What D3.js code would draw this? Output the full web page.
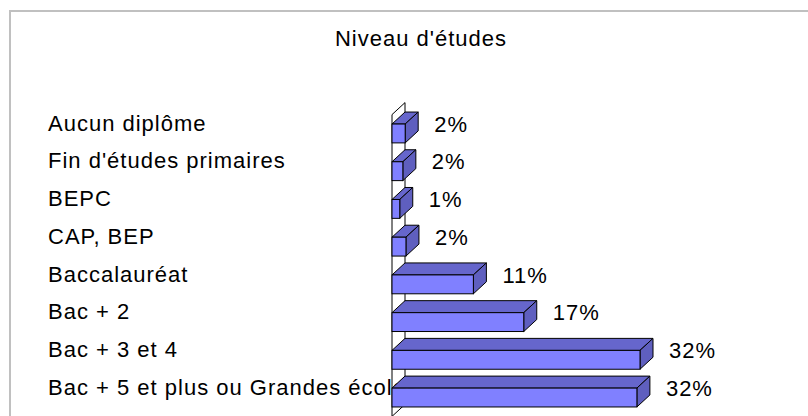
<!doctype html>
<html>
<head>
<meta charset="utf-8">
<title>Niveau d'études</title>
<script src="https://cdn.jsdelivr.net/npm/d3@7"></script>
<style>
  body { margin: 0; background: #fff; }
  text { font-family: "Liberation Sans", Arial, sans-serif; fill: #000; }
</style>
</head>
<body>
<script>
var categories = ['Aucun diplôme', "Fin d'études primaires", 'BEPC', 'CAP, BEP',
                  'Baccalauréat', 'Bac + 2', 'Bac + 3 et 4', 'Bac + 5 et plus ou Grandes écoles'];
var values = [1.7, 1.4, 1.0, 1.8, 10.5, 17.0, 32.0, 31.6];
var valueLabels = ['2%', '2%', '1%', '2%', '11%', '17%', '32%', '32%'];
var title = "Niveau d'études";

var W = 808, H = 416;
var depthX = 13, depthY = 12;

var svg = d3.select('body').append('svg')
    .attr('width', W)
    .attr('height', H);

// chart frame, runs off the right and bottom edges
svg.append('rect')
    .attr('x', 10).attr('y', 11)
    .attr('width', 820).attr('height', 440)
    .attr('fill', 'none')
    .attr('stroke', '#c0c0c0')
    .attr('stroke-width', 2);

svg.append('text')
    .attr('x', 421).attr('y', 46)
    .attr('text-anchor', 'middle')
    .style('font-size', '22px')
    .style('letter-spacing', '1px')
    .text(title);

var x = d3.scaleLinear().domain([0, 32]).range([392, 640]);
var y = d3.scaleBand().domain(categories)
    .range([114.6, 416.4])
    .paddingInner(0.5)
    .paddingOuter(0.25);

var x0 = x(0), yTop = y.range()[0], yBot = y.range()[1];

// side wall
svg.append('path')
    .attr('d', 'M' + x0 + ',' + yTop + 'L' + (x0 + depthX) + ',' + (yTop - depthY) +
               'L' + (x0 + depthX) + ',' + (yBot - depthY) + 'L' + x0 + ',' + yBot + 'Z')
    .attr('fill', '#fff')
    .attr('stroke', '#000')
    .attr('stroke-width', 1);

var bh = y.bandwidth();
var bars = svg.selectAll('g.bar').data(categories).enter().append('g').attr('class', 'bar');

bars.append('path')   // top face
    .attr('d', function(d, i) {
        var x1 = x(values[i]), t = y(d);
        return 'M' + x0 + ',' + t + 'L' + (x0 + depthX) + ',' + (t - depthY) +
               'L' + (x1 + depthX) + ',' + (t - depthY) + 'L' + x1 + ',' + t + 'Z';
    })
    .attr('fill', '#6666cc').attr('stroke', '#000').attr('stroke-linejoin', 'round');

bars.append('path')   // right face
    .attr('d', function(d, i) {
        var x1 = x(values[i]), t = y(d);
        return 'M' + x1 + ',' + t + 'L' + (x1 + depthX) + ',' + (t - depthY) +
               'L' + (x1 + depthX) + ',' + (t + bh - depthY) + 'L' + x1 + ',' + (t + bh) + 'Z';
    })
    .attr('fill', '#5f5fbf').attr('stroke', '#000').attr('stroke-linejoin', 'round');

bars.append('rect')   // front face
    .attr('x', x0)
    .attr('y', function(d) { return y(d); })
    .attr('width', function(d, i) { return x(values[i]) - x0; })
    .attr('height', bh)
    .attr('fill', '#8080ff').attr('stroke', '#000');

// category labels (drawn under the bars so the long one is clipped by them)
svg.insert('g', 'g.bar').selectAll('text').data(categories).enter().append('text')
    .attr('x', 48)
    .attr('y', function(d) { return y(d) - 1; })
    .attr('dy', '0.35em')
    .style('font-size', '22px')
    .style('letter-spacing', '1px')
    .text(function(d) { return d; });

svg.append('g').selectAll('text').data(categories).enter().append('text')
    .attr('x', function(d, i) { return x(values[i]) + depthX + 16; })
    .attr('y', function(d) { return y(d); })
    .attr('dy', '0.35em')
    .style('font-size', '22px')
    .style('letter-spacing', '1px')
    .text(function(d, i) { return valueLabels[i]; });
</script>
</body>
</html>
